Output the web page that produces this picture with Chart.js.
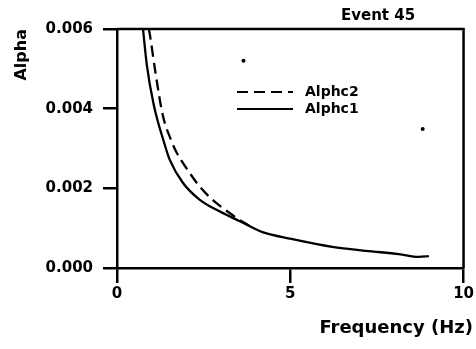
<!DOCTYPE html>
<html><head><meta charset="utf-8">
<script src="https://cdn.jsdelivr.net/npm/chart.js@4"></script>
<style>html,body{margin:0;padding:0;background:#fff;}canvas{display:block;}</style>
</head><body>
<canvas id="c" width="476" height="349"></canvas>
<script>
// ---- data ----
const freq1  = [0.75, 0.86, 1.06, 1.38, 1.52, 1.90, 2.39, 2.87, 3.53, 4.20, 5.03, 6.21, 7.18, 8.13, 8.71, 9.00];
const alpha1 = [0.00600, 0.00510, 0.00410, 0.00309, 0.00272, 0.00214, 0.00171, 0.00146, 0.00118, 0.00090, 0.00073, 0.00053, 0.00043, 0.00035, 0.00028, 0.00030];
const freq2  = [0.92, 0.95, 1.12, 1.32, 1.58, 1.72, 2.04, 2.39, 2.76, 3.25, 3.53, 3.82];
const alpha2 = [0.00600, 0.00585, 0.00485, 0.00384, 0.00317, 0.00290, 0.00246, 0.00204, 0.00171, 0.00138, 0.00121, 0.00106];
const dotFreq  = [3.65, 8.82];
const dotAlpha = [0.00520, 0.00349];
const xTicks = [0, 5, 10];
const yTicks = [0, 0.002, 0.004, 0.006];
const labels = ['Alphc2', 'Alphc1'];
const titleText = 'Event 45';
const xTitle = 'Frequency (Hz)';
const yTitle = 'Alpha';

const FONT = '"DejaVu Sans"';
const pts = (xs, ys) => xs.map((x, i) => ({x, y: ys[i]}));

const decor = {
  id: 'decor',
  afterDraw(chart) {
    const {ctx, chartArea: a} = chart;
    ctx.save();
    ctx.strokeStyle = '#000';
    ctx.fillStyle = '#000';
    ctx.lineWidth = 2.5;
    ctx.setLineDash([]);
    ctx.beginPath();
    ctx.moveTo(a.left, a.top);
    ctx.lineTo(a.right, a.top);
    ctx.lineTo(a.right, a.bottom);
    ctx.stroke();
    // legend
    const items = chart.data.datasets.filter(d => d.type !== 'scatter');
    items.forEach((d, i) => {
      const y = 92 + i * 17;
      ctx.lineWidth = 2.2;
      ctx.setLineDash(d.borderDash || []);
      ctx.beginPath(); ctx.moveTo(237, y); ctx.lineTo(293, y); ctx.stroke();
      ctx.setLineDash([]);
      ctx.font = 'bold 14px ' + FONT;
      ctx.textBaseline = 'middle';
      ctx.textAlign = 'left';
      ctx.fillText(d.label, 305, y);
    });
    // title
    ctx.font = 'bold 15px ' + FONT;
    ctx.textAlign = 'center';
    ctx.textBaseline = 'middle';
    ctx.fillText(titleText, 378, 16);
    // x title
    ctx.font = 'bold 18px ' + FONT;
    ctx.textAlign = 'right';
    ctx.fillText(xTitle, 473, 328);
    ctx.restore();
  }
};

new Chart(document.getElementById('c'), {
  type: 'line',
  data: {
    datasets: [
      { label: labels[0], data: pts(freq2, alpha2), borderColor: '#000', borderWidth: 2.3,
        borderDash: [11, 6], pointRadius: 0, fill: false, cubicInterpolationMode: 'monotone' },
      { label: labels[1], data: pts(freq1, alpha1), borderColor: '#000', borderWidth: 2.3,
        pointRadius: 0, fill: false, cubicInterpolationMode: 'monotone' },
      { type: 'scatter', label: '', data: pts(dotFreq, dotAlpha), pointRadius: 2,
        pointBackgroundColor: '#000', pointBorderWidth: 0, showLine: false }
    ]
  },
  options: {
    responsive: false,
    animation: false,
    layout: { padding: { top: 29, right: 11, left: 0, bottom: 0 } },
    plugins: { legend: { display: false }, tooltip: { enabled: false } },
    scales: {
      x: {
        type: 'linear', min: 0, max: 10,
        afterBuildTicks: s => { s.ticks = xTicks.map(v => ({value: v})); },
        afterFit: s => { s.height = 81; },
        grid: { drawOnChartArea: false, drawTicks: true, tickLength: 15, color: '#000', lineWidth: 2.5 },
        border: { display: true, color: '#000', width: 2.5 },
        ticks: { color: '#000', padding: 2, maxRotation: 0, font: { family: FONT, size: 15, weight: 'bold' },
                 callback: v => String(v) }
      },
      y: {
        type: 'linear', min: 0, max: 0.006,
        afterBuildTicks: s => { s.ticks = yTicks.map(v => ({value: v})); },
        afterFit: s => { s.width = 117; },
        grid: { drawOnChartArea: false, drawTicks: true, tickLength: 14, color: '#000', lineWidth: 2.5 },
        border: { display: true, color: '#000', width: 2.5 },
        ticks: { color: '#000', padding: 10, font: { family: FONT, size: 15, weight: 'bold' },
                 callback: v => Number(v).toFixed(3) },
        title: { display: true, text: yTitle, align: 'end', color: '#000',
                 font: { family: FONT, size: 16, weight: 'bold' }, padding: { top: 12, bottom: 0 } }
      }
    }
  },
  plugins: [decor]
});
</script>
</body></html>
